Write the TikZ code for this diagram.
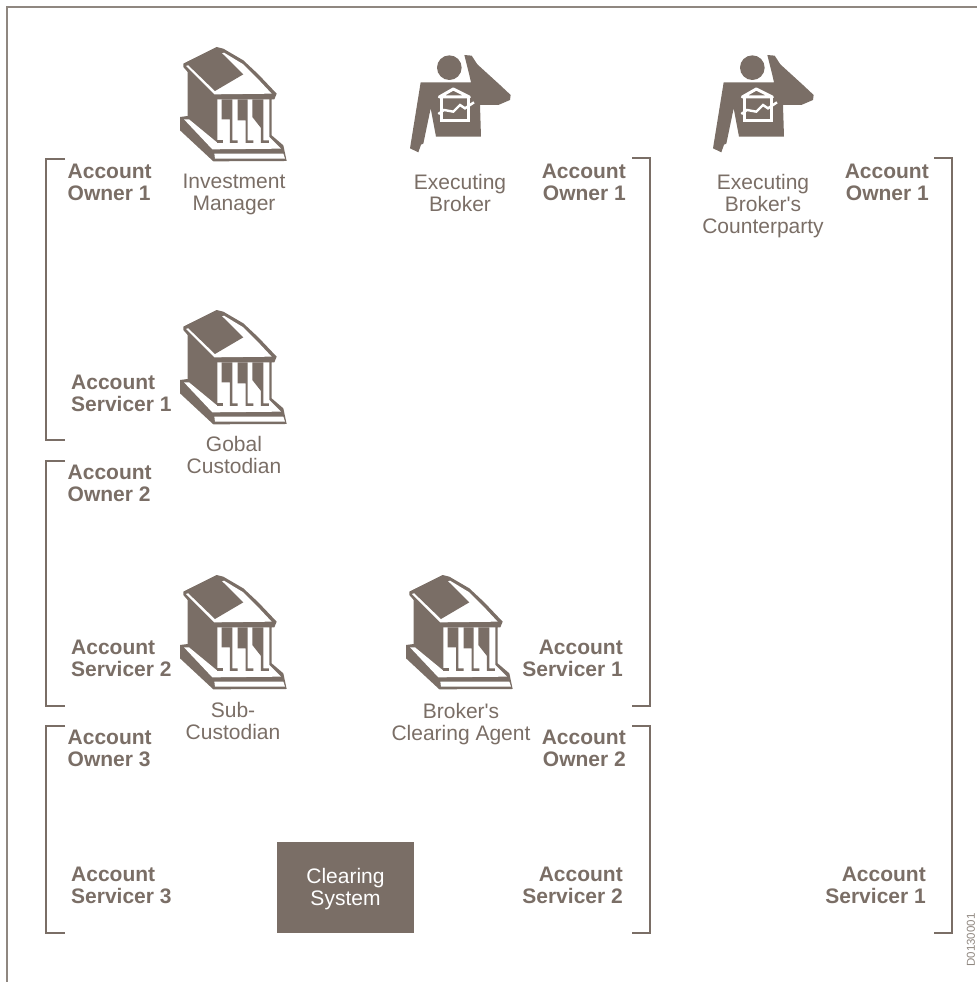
\documentclass[tikz,border=0pt]{standalone}
\usepackage{fontspec}
\setmainfont{Liberation Sans}
\definecolor{tp}{HTML}{7A6E66}
\definecolor{fr}{HTML}{8F8780}
\tikzset{
 lbl/.style={text=tp,font=\fontsize{21}{22}\selectfont\bfseries,inner sep=0pt},
 lbll/.style={lbl,align=left,anchor=west},
 lblr/.style={lbl,align=right,anchor=east},
 capt/.style={text=tp,font=\fontsize{21}{22}\selectfont,align=center,inner sep=0pt},
 brk/.style={draw=tp,line width=2.2pt},
 bld/.pic={
  \begin{scope}[x=0.3333pt,y=-0.3333pt]
  \fill[tp,line join=round] (25,65) -- (125,15) -- (145,20) -- (205,55) -- (250,97) -- (305,155) -- (298,172) -- (290,172) -- (290,280) -- (325,310) -- (335,357) -- (115,358) -- (15,265) -- (15,225) -- (38,222) -- (38,90) -- (25,75) -- cycle;
  \fill[white] (147,32) -- (205,67) -- (245,107) -- (290,155) -- (118,157) -- (33,72) -- cycle;
  \fill[tp] (32,62) -- (125,18) -- (205,97) -- (120,147) -- cycle;
  \fill[white] (27,232) -- (42,232) -- (127,302) -- (127,172) -- (283,172) -- (283,285) -- (318,320) -- (112,322) -- cycle;
  \fill[white] (118,335) -- (325,335) -- (330,350) -- (120,350) -- cycle;
  \fill[tp] (127,295) -- (145,295) -- (145,303) -- (127,303) -- cycle;
  \fill[tp] (140,172) -- (172,172) -- (172,295) -- (188,295) -- (188,303) -- (165,303) -- (165,232) -- (140,232) -- cycle;
  \fill[tp] (188,172) -- (218,172) -- (218,295) -- (235,295) -- (235,303) -- (212,303) -- (212,235) -- (188,235) -- cycle;
  \fill[tp] (232,172) -- (265,172) -- (265,295) -- (282,295) -- (282,303) -- (258,303) -- (258,258) -- (232,225) -- cycle;
  \end{scope}
 },
 brokerman/.pic={
  \begin{scope}[x=0.3333pt,y=-0.3333pt]
  \fill[tp] (148,68) circle[radius=37];
  \fill[tp] (193,30) -- (215,32) -- (232,58) -- (300,120) -- (332,150) -- (330,165) -- (295,180) -- (240,180) -- (243,275) -- (108,275) -- (92,190) -- (70,296) -- (63,299) -- (55,322) -- (30,310) -- (62,112) -- (213,112) -- (208,90) -- cycle;
  \draw[white,line width=3pt,line join=round] (118,156) -- (160,132) -- (208,156) -- cycle;
  \draw[white,line width=3pt] (124,160) -- (124,228) -- (206,228) -- (206,160);
  \draw[white,line width=2.4pt] (115,207) -- (132,195) -- (160,200) -- (180,180) -- (195,190) -- (222,172);
  \end{scope}
 }
}
\begin{document}
\begin{tikzpicture}[x=1pt,y=-1pt]
\useasboundingbox (0,0) rectangle (977,982);
\draw[fr,line width=1.5pt] (7,982) -- (7,7) -- (977,7);
\pic at (175,42) {bld};
\pic at (175,305) {bld};
\pic at (175,570) {bld};
\pic at (401,570) {bld};
\pic at (400,45) {brokerman};
\pic at (703,45) {brokerman};
\draw[brk] (65,159) -- (46,159) -- (46,440) -- (65,440);
\draw[brk] (65,461) -- (46,461) -- (46,706) -- (65,706);
\draw[brk] (65,726) -- (46,726) -- (46,933) -- (65,933);
\draw[brk] (632,158) -- (650,158) -- (650,706) -- (632,706);
\draw[brk] (632,726) -- (650,726) -- (650,933) -- (632,933);
\draw[brk] (934,158) -- (952,158) -- (952,933) -- (934,933);
\node[lbll] (lo1) at (67.5,182) {Account\\Owner 1};
\node[lbll] (ls1) at (71,393) {Account\\Servicer 1};
\node[lbll] (lo2) at (67.5,483) {Account\\Owner 2};
\node[lbll] (ls2) at (71,658) {Account\\Servicer 2};
\node[lbll] (lo3) at (67.5,748) {Account\\Owner 3};
\node[lbll] (ls3) at (71,885) {Account\\Servicer 3};
\node[lblr] (mo1) at (626,182) {Account\\Owner 1};
\node[lblr] (ms1) at (623,658) {Account\\Servicer 1};
\node[lblr] (mo2) at (626,748) {Account\\Owner 2};
\node[lblr] (ms2) at (623,885) {Account\\Servicer 2};
\node[lblr] (ro1) at (929,182) {Account\\Owner 1};
\node[lblr] (rs1) at (926,885) {Account\\Servicer 1};
\node[capt] (im) at (234,194) {Investment\\Manager};
\node[capt] (eb) at (460,193) {Executing\\Broker};
\node[capt] (ec) at (763,206) {Executing\\Broker\textquotesingle s\\Counterparty};
\node[capt] (gc) at (234,455) {Gobal\\Custodian};
\node[capt] (sc) at (233,721) {Sub-\\Custodian};
\node[capt] (bc) at (461,724) {Broker\textquotesingle s\\Clearing Agent};
\node[fill=tp,minimum width=137pt,minimum height=91pt,inner sep=0pt,
  label={[text=white,font=\fontsize{21}{22}\selectfont,align=center,inner sep=0pt,yshift=-2pt]center:Clearing\\System}] (cs) at (345.5,887.5) {};
\node[text=fr,font=\fontsize{11.5}{12}\selectfont,rotate=90,inner sep=0pt] (id) at (971,940) {D0130001};
\end{tikzpicture}
\end{document}
